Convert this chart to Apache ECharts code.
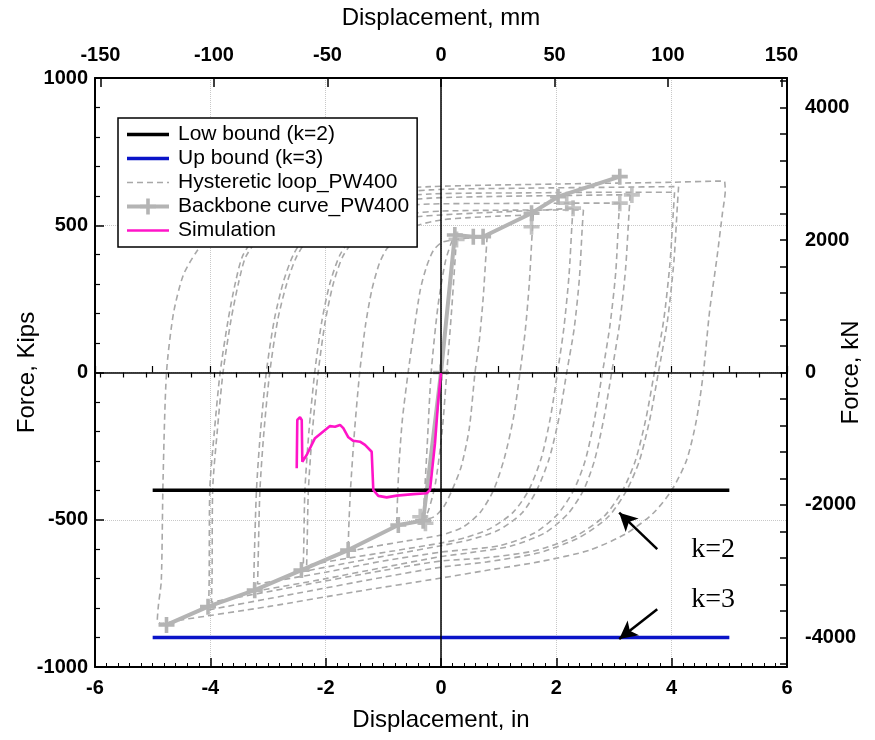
<!DOCTYPE html>
<html><head><meta charset="utf-8">
<script src="https://cdn.jsdelivr.net/npm/echarts@6/dist/echarts.min.js"></script>
<style>html,body{margin:0;padding:0;background:#fff}#c{width:875px;height:740px}</style>
</head><body><div id="c"></div>
<script>
// ---- tick values ----
const topTicksMm = [-150,-100,-50,0,50,100,150];
const topMinorMm = [-150,-140,-130,-120,-110,-100,-90,-80,-70,-60,-50,-40,-30,-20,-10,0,10,20,30,40,50,60,70,80,90,100,110,120,130,140,150];
const rightTicksKN = [-4000,-2000,0,2000,4000];
const rightMinorKN = [-4400,-4000,-3600,-3200,-2800,-2400,-2000,-1600,-1200,-800,-400,0,400,800,1200,1600,2000,2400,2800,3200,3600,4000,4400];
const annotLabels = ['k=2','k=3'];
const annotPos = [[4.72,-602],[4.72,-772]];
const arrowK2 = [[3.75,-600],[3.09,-476]];
const arrowK3 = [[3.75,-804],[3.09,-905]];

// ---- series data (in, kips) ----
const lowBound = [[-5,-400],[5,-400]];
const upBound = [[-5,-900],[5,-900]];
const simulation = [[0,-2],[-0.047,-93],[-0.104,-240],[-0.191,-399],[-0.248,-410],[-0.48,-413],[-0.768,-418],[-0.942,-424],[-1.087,-419],[-1.174,-399],[-1.202,-269],[-1.231,-263],[-1.318,-246],[-1.405,-235],[-1.521,-232],[-1.607,-220],[-1.694,-189],[-1.751,-178],[-1.838,-184],[-1.925,-182],[-2.185,-223],[-2.329,-280],[-2.405,-303],[-2.415,-161],[-2.445,-152],[-2.492,-161],[-2.502,-325]];
const backbone = [[-4.76,-857],[-4.04,-795],[-3.23,-739],[-2.42,-671],[-1.61,-603],[-0.74,-518],[-0.31,-503],[0,0],[0.24,467],[0.56,461],[0.73,461],[1.57,541],[2.03,597],[3.10,665]];
const backboneExtra = [[-0.36,-490],[-0.27,-512],[0.27,452],[1.57,495],[2.18,575],[2.29,558],[3.10,575],[3.31,603]];
const loop1 = [[0,0],[0.08,150],[0.17,320],[0.24,440],[0.27,462],[0.25,400],[0.18,200],[0.10,0],[0.02,-200],[-0.10,-380],[-0.22,-470],[-0.31,-501],[-0.29,-430],[-0.24,-250],[-0.17,0],[-0.05,230],[0.08,380],[0.2,450],[0.27,462]];
const loop2 = [[0.80,462],[0.78,400],[0.73,250],[0.66,100],[0.59,0],[0.49,-190],[0.35,-320],[0.19,-400],[0.05,-455],[-0.12,-490],[-0.45,-505],[-0.77,-518],[-0.76,-460],[-0.73,-320],[-0.67,-160],[-0.57,0],[-0.47,140],[-0.36,280],[-0.25,360],[-0.13,415],[0.02,442],[0.3,453],[0.6,458],[0.80,462]];
const loop3 = [[1.60,535],[1.58,470],[1.53,300],[1.46,140],[1.37,0],[1.26,-150],[1.10,-290],[0.91,-400],[0.68,-475],[0.38,-525],[0.0,-552],[-0.6,-572],[-1.2,-592],[-1.61,-608],[-1.60,-530],[-1.57,-400],[-1.50,-200],[-1.41,0],[-1.31,160],[-1.20,280],[-1.07,370],[-0.94,420],[-0.70,470],[-0.40,500],[0.0,518],[0.5,526],[1.0,531],[1.45,534],[1.60,535]];
const loop4 = [[2.47,552],[2.45,495],[2.40,320],[2.31,150],[2.18,0],[2.05,-150],[1.88,-290],[1.66,-400],[1.40,-478],[1.00,-535],[0.50,-568],[0.0,-588],[-0.8,-617],[-1.6,-646],[-2.39,-676],[-2.38,-590],[-2.36,-400],[-2.29,-200],[-2.19,0],[-2.07,170],[-1.93,300],[-1.75,400],[-1.50,468],[-1.10,515],[-0.50,540],[0.0,548],[1.0,551],[2.0,552],[2.47,552]];
const loop4b = [[2.29,558],[2.27,500],[2.22,330],[2.13,150],[2.02,0],[1.90,-150],[1.74,-290],[1.52,-400],[1.25,-475],[0.85,-530],[0.4,-562],[0.0,-579],[-0.8,-605],[-1.6,-630],[-2.33,-655],[-2.32,-570],[-2.30,-400],[-2.23,-200],[-2.13,0],[-2.01,170],[-1.87,300],[-1.70,395],[-1.45,460],[-1.05,505],[-0.45,528],[0.0,535],[1.0,545],[1.8,552],[2.29,558]];
const loop5 = [[3.28,603],[3.26,540],[3.20,350],[3.10,170],[2.96,0],[2.82,-160],[2.66,-300],[2.47,-400],[2.20,-480],[1.80,-545],[1.20,-590],[0.50,-612],[0.0,-625],[-1.0,-662],[-2.0,-700],[-3.25,-744],[-3.24,-650],[-3.20,-400],[-3.13,-200],[-3.03,0],[-2.89,180],[-2.73,310],[-2.56,400],[-2.30,478],[-1.90,535],[-1.20,572],[-0.19,592],[1.0,598],[2.2,601],[3.0,603],[3.28,603]];
const loop5b = [[3.10,575],[3.08,520],[3.03,340],[2.93,160],[2.80,0],[2.66,-160],[2.50,-300],[2.30,-400],[2.02,-482],[1.62,-545],[1.02,-588],[0.4,-602],[0.0,-610],[-1.0,-640],[-2.0,-678],[-3.18,-718],[-3.17,-630],[-3.14,-400],[-3.07,-200],[-2.97,0],[-2.83,180],[-2.67,305],[-2.50,395],[-2.24,470],[-1.84,525],[-1.14,558],[-0.19,572],[1.0,574],[2.2,575],[3.10,575]];
const loop6 = [[4.12,631],[4.10,570],[4.04,380],[3.93,180],[3.77,0],[3.62,-160],[3.44,-300],[3.22,-400],[2.90,-490],[2.40,-560],[1.70,-612],[0.80,-643],[0.0,-661],[-1.0,-695],[-2.5,-750],[-4.03,-806],[-4.02,-700],[-4.01,-400],[-3.93,-200],[-3.83,0],[-3.69,180],[-3.56,310],[-3.43,400],[-3.10,488],[-2.60,548],[-1.80,590],[-0.19,620],[1.5,626],[3.0,629],[4.0,631],[4.12,631]];
const loop6b = [[4.05,612],[4.03,550],[3.97,370],[3.86,175],[3.70,0],[3.55,-160],[3.37,-300],[3.15,-400],[2.83,-488],[2.33,-556],[1.63,-605],[0.73,-630],[0.0,-640],[-1.0,-672],[-2.5,-726],[-3.98,-780],[-3.97,-690],[-3.96,-400],[-3.88,-200],[-3.78,0],[-3.64,180],[-3.51,305],[-3.38,395],[-3.05,480],[-2.55,540],[-1.75,580],[-0.19,606],[1.5,610],[3.0,612],[4.05,612]];
const loop7 = [[4.92,648],[4.93,620],[4.88,540],[4.78,382],[4.66,212],[4.55,0],[4.43,-161],[4.26,-297],[4.00,-400],[3.68,-478],[3.22,-546],[2.58,-603],[1.72,-642],[0.85,-670],[0.0,-698],[-1.5,-745],[-3.0,-795],[-4.5,-840],[-4.85,-852],[-4.92,-845],[-4.90,-790],[-4.85,-706],[-4.82,-365],[-4.76,0],[-4.64,200],[-4.47,330],[-4.24,410],[-3.90,488],[-3.30,556],[-2.20,605],[-0.19,631],[2.0,640],[4.0,646],[4.85,650],[4.92,648]];
const loops = [loop1, loop2, loop3, loop4, loop4b, loop5, loop5b, loop6, loop6b, loop7];

const IN_TO_MM = 25.4, KIP_TO_KN = 4.44822;
const XMIN = -6, XMAX = 6, YMIN = -1000, YMAX = 1000;

const numFont = '"Liberation Sans", Arial, sans-serif';
const plus = 'path://M0,6.2H16V9.8H0Z M6.2,0H9.8V16H6.2Z';
const names = ['Low bound (k=2)','Up bound (k=3)','Hysteretic loop_PW400','Backbone curve_PW400','Simulation'];
const C = {low:'#000000', up:'#0a14c8', loop:'#a8a8a8', bb:'#b4b4b4', sim:'#ff14c8'};

const chart = echarts.init(document.getElementById('c'), null, {renderer:'canvas'});
const fmt = v => String(Math.round(v));
const axisLbl = {color:'#000', fontFamily:numFont, fontWeight:'bold', fontSize:20, formatter:fmt};
const nameStyle = {color:'#000', fontFamily:numFont, fontSize:24};

const series = [];
loops.forEach(l => series.push({
  name: names[2], type:'line', data:l, symbol:'none', smooth:0.25,
  lineStyle:{color:C.loop, width:1.6, type:[6,4]}, itemStyle:{color:C.loop}, z:2, silent:true
}));
series.push({
  name: names[3], type:'line', data:backbone, symbol:plus, symbolSize:16, showSymbol:true,
  lineStyle:{color:C.bb, width:4}, itemStyle:{color:C.bb}, z:3, silent:true
});
series.push({
  name:'bbExtra', type:'scatter', data:backboneExtra, symbol:plus, symbolSize:16,
  itemStyle:{color:C.bb}, z:3, silent:true
});
series.push({
  name: names[0], type:'line', data:lowBound, symbol:'none',
  lineStyle:{color:C.low, width:3.5}, itemStyle:{color:C.low}, z:4, silent:true,
  markLine:{silent:true, symbol:'none', label:{show:false},
    lineStyle:{color:'#000', width:1.5, type:'solid'},
    data:[{xAxis:0},{yAxis:0}]}
});
series.push({
  name: names[1], type:'line', data:upBound, symbol:'none',
  lineStyle:{color:C.up, width:3.5}, itemStyle:{color:C.up}, z:4, silent:true,
  markLine:{silent:true, symbol:['none','arrow'], symbolSize:[14,18], label:{show:false},
    lineStyle:{color:'#000', width:2.5, type:'solid'},
    data:[[{coord:arrowK2[0]},{coord:arrowK2[1]}],[{coord:arrowK3[0]},{coord:arrowK3[1]}]]}
});
series.push({
  name: names[4], type:'line', data:simulation, symbol:'none',
  lineStyle:{color:C.sim, width:2.6}, itemStyle:{color:C.sim}, z:5, silent:true
});
series.push({
  name:'annot', type:'scatter', symbolSize:1, itemStyle:{color:'rgba(255,255,255,0)', opacity:1}, silent:true, z:6,
  data: annotPos.map((p,i)=>({value:p, label:{show:true, formatter:annotLabels[i], position:'inside',
    color:'#000', opacity:1, textBorderWidth:0, textShadowBlur:0, fontWeight:'normal',
    fontFamily:'"Liberation Serif","Times New Roman",serif', fontSize:28}}))
});

const hide = {opacity:0};
chart.setOption({
  animation:false,
  backgroundColor:'#fff',
  grid:{left:95, right:88, top:78, bottom:73, outerBoundsMode:'none'},
  legend:{
    orient:'vertical', left:118, top:118,
    data:[
      {name:names[0], itemStyle:hide, lineStyle:{color:C.low, width:3.5}},
      {name:names[1], itemStyle:hide, lineStyle:{color:C.up, width:3.5}},
      {name:names[2], itemStyle:hide, lineStyle:{color:C.loop, width:1.6, type:[6,4]}},
      {name:names[3], lineStyle:{color:C.bb, width:4}},
      {name:names[4], itemStyle:hide, lineStyle:{color:C.sim, width:2.6}}
    ],
    padding:[6,8,6,7], itemGap:3, itemWidth:42, itemHeight:20,
    backgroundColor:'#fff', borderColor:'#000', borderWidth:1.5, borderRadius:0,
    textStyle:{color:'#000', fontFamily:numFont, fontSize:21, padding:[0,0,0,4]},
    selectedMode:false
  },
  xAxis:[
    {type:'value', position:'bottom', min:XMIN, max:XMAX, interval:2,
     name:'Displacement, in', nameLocation:'middle', nameGap:41, nameMoveOverlap:false, nameTextStyle:nameStyle,
     axisLine:{show:true, onZero:false, lineStyle:{color:'#000', width:2}},
     axisTick:{show:true, inside:true, length:9, lineStyle:{color:'#000', width:1.5}},
     minorTick:{show:true, splitNumber:10, length:4, lineStyle:{color:'#000', width:1}},
     axisLabel:Object.assign({margin:11, showMinLabel:true, showMaxLabel:true}, axisLbl),
     splitLine:{show:true, lineStyle:{color:'#c8c8c8', width:1, type:'dotted'}}},
    {type:'value', position:'bottom', min:XMIN, max:XMAX, interval:1,
     axisLine:{show:false}, axisLabel:{show:false}, splitLine:{show:false},
     axisTick:{show:true, inside:true, length:6.5, lineStyle:{color:'#000', width:1.2}}},
    {type:'value', position:'top', min:XMIN*IN_TO_MM, max:XMAX*IN_TO_MM,
     name:'Displacement, mm', nameLocation:'middle', nameGap:48, nameMoveOverlap:false, nameTextStyle:nameStyle,
     axisLine:{show:true, onZero:false, lineStyle:{color:'#000', width:2}},
     axisTick:{show:true, inside:true, length:9, customValues:topTicksMm, lineStyle:{color:'#000', width:1.5}},
     axisLabel:Object.assign({margin:13, customValues:topTicksMm}, axisLbl),
     splitLine:{show:false}},
    {type:'value', position:'top', min:XMIN*IN_TO_MM, max:XMAX*IN_TO_MM,
     axisLine:{show:false}, axisLabel:{show:false}, splitLine:{show:false},
     axisTick:{show:true, inside:true, length:5, customValues:topMinorMm, lineStyle:{color:'#000', width:1.2}}}
  ],
  yAxis:[
    {type:'value', position:'left', min:YMIN, max:YMAX, interval:500,
     name:'Force, Kips', nameLocation:'middle', nameGap:56, nameMoveOverlap:false, nameTextStyle:nameStyle,
     axisLine:{show:true, onZero:false, lineStyle:{color:'#000', width:2}},
     axisTick:{show:true, inside:true, length:9, lineStyle:{color:'#000', width:1.5}},
     minorTick:{show:true, splitNumber:5, length:5, lineStyle:{color:'#000', width:1.2}},
     axisLabel:Object.assign({margin:7, showMinLabel:true, showMaxLabel:true}, axisLbl),
     splitLine:{show:true, lineStyle:{color:'#c8c8c8', width:1, type:'dotted'}}},
    {type:'value', position:'right', min:YMIN*KIP_TO_KN, max:YMAX*KIP_TO_KN,
     name:'Force, kN', nameLocation:'middle', nameGap:52, nameRotate:90, nameMoveOverlap:false, nameTextStyle:nameStyle,
     axisLine:{show:true, onZero:false, lineStyle:{color:'#000', width:2}},
     axisTick:{show:true, inside:true, length:7, customValues:rightMinorKN, lineStyle:{color:'#000', width:1.5}},
     axisLabel:Object.assign({margin:18, customValues:rightTicksKN}, axisLbl),
     splitLine:{show:false}}
  ],
  series: series
});
</script></body></html>
